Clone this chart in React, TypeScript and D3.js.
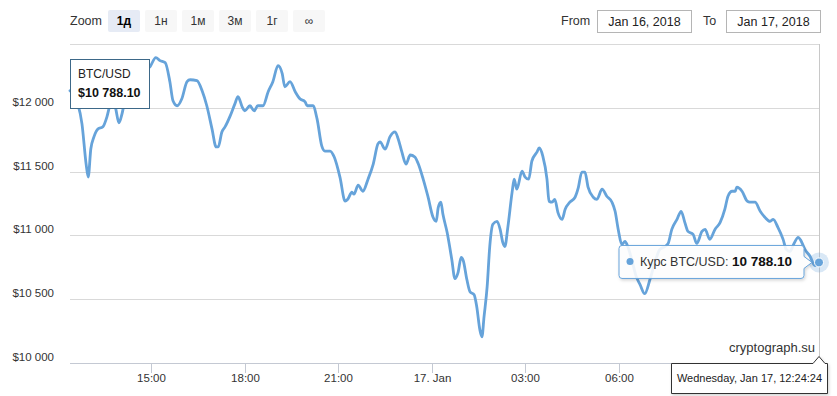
import React from 'react';
import * as d3 from 'd3';

// Time axis: minutes after Jan 16 2018 12:24:24 (UTC)
const startTime = Date.UTC(2018, 0, 16, 12, 24, 24);
const endTime = Date.UTC(2018, 0, 17, 12, 24, 24);

const minutesFromStart = [
  0, 15, 23, 31, 35, 40, 46, 54, 63, 71, 77, 83, 88, 94, 100, 106, 115, 135, 154, 165,
  173, 183, 192, 198, 206, 215, 225, 231, 244, 254, 263, 273, 281, 285, 292, 298, 308, 317, 323, 331,
  336, 346, 354, 361, 371, 381, 390, 400, 408, 413, 423, 433, 442, 452, 456, 467, 475, 484, 490, 500,
  508, 519, 529, 534, 542, 546, 554, 563, 573, 583, 592, 596, 606, 615, 625, 631, 638, 646, 654, 663,
  669, 679, 688, 698, 704, 708, 713, 717, 725, 734, 740, 746, 752, 756, 763, 769, 777, 782, 788, 792,
  796, 802, 807, 813, 821, 827, 832, 836, 842, 850, 854, 859, 869, 875, 882, 888, 898, 902, 909, 917,
  921, 927, 932, 938, 946, 952, 961, 971, 977, 984, 990, 996, 1006, 1013, 1023, 1032, 1042, 1048, 1054, 1061,
  1067, 1073, 1081, 1088, 1096, 1105, 1115, 1125, 1134, 1144, 1150, 1157, 1167, 1175, 1182, 1188, 1198, 1205, 1215, 1221,
  1230, 1240, 1250, 1259, 1265, 1273, 1279, 1282, 1292, 1302, 1307, 1317, 1327, 1336, 1346, 1352, 1361, 1371, 1377, 1384,
  1392, 1400, 1405, 1413, 1423, 1432, 1440,
];

const prices = [
  12134, 12031, 11874, 11559, 11457, 11677, 11772, 11835, 11850, 11929, 12024, 12071, 11992, 11882, 11953, 12071, 12189, 12268, 12323, 12394,
  12370, 12354, 12205, 12055, 12016, 12071, 12205, 12220, 12213, 12134, 12016, 11835, 11693, 11693, 11811, 11850, 11937, 12031, 12087, 12008,
  11976, 12016, 11976, 12016, 12016, 12126, 12205, 12331, 12268, 12165, 12205, 12126, 12071, 12047, 12016, 12016, 11913, 11701, 11661, 11661,
  11614, 11457, 11268, 11283, 11339, 11323, 11394, 11346, 11441, 11559, 11717, 11732, 11677, 11772, 11811, 11756, 11654, 11559, 11630, 11614,
  11567, 11441, 11307, 11142, 11110, 11220, 11260, 11165, 11024, 10811, 10661, 10709, 10827, 10803, 10654, 10559, 10535, 10441, 10260, 10205,
  10362, 10598, 10913, 11087, 11110, 11047, 10945, 10913, 11071, 11339, 11441, 11362, 11504, 11457, 11441, 11583, 11654, 11685, 11622, 11441,
  11268, 11260, 11283, 11181, 11126, 11205, 11260, 11299, 11370, 11496, 11496, 11378, 11299, 11283, 11362, 11307, 11260, 11189, 11047, 10929,
  10953, 10906, 10795, 10685, 10614, 10543, 10654, 10795, 10890, 10913, 10937, 11047, 11126, 11189, 11102, 11031, 11008, 10937, 11031, 11047,
  10969, 11047, 11102, 11205, 11307, 11346, 11346, 11378, 11346, 11268, 11260, 11260, 11189, 11142, 11110, 11126, 11063, 10969, 10890, 10874,
  10937, 10984, 10961, 10890, 10835, 10764, 10788.1,
];

const yTickValues = [10000, 10500, 11000, 11500, 12000, 12500];
const yTickLabels = ['$10 000', '$10 500', '$11 000', '$11 500', '$12 000', ''];

// visible x-axis ticks (later ones are covered by the hover date label)
const xTickTimes = [
  Date.UTC(2018, 0, 16, 15), Date.UTC(2018, 0, 16, 18), Date.UTC(2018, 0, 16, 21), Date.UTC(2018, 0, 17, 0),
  Date.UTC(2018, 0, 17, 3), Date.UTC(2018, 0, 17, 6),
];
const xTickLabels = ['15:00', '18:00', '21:00', '17. Jan', '03:00', '06:00'];

const zoomButtons = ['1д', '1н', '1м', '3м', '1г', '∞'];
const selectedButton = 0;
const fromDate = 'Jan 16, 2018';
const toDate = 'Jan 17, 2018';
const seriesName = 'BTC/USD';
const tooltipLabel = 'Курс BTC/USD: ';
const lastValueText = '10 788.10';
const hoverDateText = 'Wednesday, Jan 17, 12:24:24';
const creditText = 'cryptograph.su';

const FONT = "'Liberation Sans', Arial, sans-serif";
const LINE = '#66a3da';

export default function App() {
  const W = 837, H = 396;
  const left = 70, right = 819, top = 44, bottom = 363;

  const x = d3.scaleUtc().domain([new Date(startTime), new Date(endTime)]).range([left, right]);
  const y = d3.scaleLinear().domain([10000, 12500]).range([bottom, top]);

  const data = minutesFromStart.map((m, i) => ({ t: new Date(startTime + m * 60000), v: prices[i] }));
  const line = d3.line<any>().x((d) => x(d.t)).y((d) => y(d.v)).curve(d3.curveMonotoneX);
  const last = data[data.length - 1];
  const lx = x(last.t);
  const ly = y(last.v);

  // series tooltip geometry
  const tipR = lx - 15, tipL = tipR - 185, tipT = ly - 17, tipB = ly + 16;
  const tipPath = `M${tipL + 3},${tipT} H${tipR - 3} Q${tipR},${tipT} ${tipR},${tipT + 3} V${ly - 6} L${tipR + 8},${ly} L${tipR},${ly + 6} V${tipB - 3} Q${tipR},${tipB} ${tipR - 3},${tipB} H${tipL + 3} Q${tipL},${tipB} ${tipL},${tipB - 3} V${tipT + 3} Q${tipL},${tipT} ${tipL + 3},${tipT} Z`;

  // date label under axis
  const dL = 671.5, dR = 827.5, dT = bottom + 0.5, dB = 393.5;
  const datePath = `M${dL},${dT} H${lx - 6} L${lx},${dT - 7} L${lx + 6},${dT} H${dR} V${dB} H${dL} Z`;

  return (
    <svg width={W} height={H} style={{ position: 'absolute', left: 0, top: 0, background: '#fff' }} fontFamily={FONT}>
      <defs>
        <filter id="sh" x="-10%" y="-20%" width="130%" height="160%">
          <feDropShadow dx="1" dy="1.5" stdDeviation="1.5" floodColor="#000" floodOpacity="0.18" />
        </filter>
      </defs>
      <rect width={W} height={H} fill="#fff" />

      {/* range selector */}
      <text x={70} y={25} fontSize={12.5} fill="#333">Zoom</text>
      {zoomButtons.map((b, i) => {
        const bx = 108 + i * 37;
        const sel = i === selectedButton;
        return (
          <g key={b}>
            <rect x={bx} y={10} width={32} height={22} rx={2} fill={sel ? '#e6ebf5' : '#f7f7f7'} />
            <text x={bx + 16} y={25} textAnchor="middle" fontSize={12} fontWeight={sel ? 'bold' : 'normal'} fill={sel ? '#000' : '#333'}>{b}</text>
          </g>
        );
      })}
      <text x={561} y={25} fontSize={12.5} fill="#333">From</text>
      <rect x={597.5} y={10.5} width={94} height={22} fill="#fff" stroke="#b5b5b5" />
      <text x={644.5} y={25.5} textAnchor="middle" fontSize={12.5} fill="#222">{fromDate}</text>
      <text x={703} y={25} fontSize={12.5} fill="#333">To</text>
      <rect x={726.5} y={10.5} width={94} height={22} fill="#fff" stroke="#b5b5b5" />
      <text x={773.5} y={25.5} textAnchor="middle" fontSize={12.5} fill="#222">{toDate}</text>

      {/* grid */}
      {yTickValues.map((v, i) => (
        <g key={v}>
          <line x1={left} x2={right} y1={Math.round(y(v)) + 0.5} y2={Math.round(y(v)) + 0.5} stroke={i === 0 ? '#c4c9d3' : '#d9d9d9'} />
          {yTickLabels[i] && (
            <text x={54} y={y(v) - 2} textAnchor="end" fontSize={11.5} fill="#333">{yTickLabels[i]}</text>
          )}
        </g>
      ))}
      <line x1={right + 0.5} x2={right + 0.5} y1={top} y2={bottom} stroke="#c8c8c8" />

      {/* x axis */}
      {xTickTimes.map((t, i) => {
        const tx = Math.round(x(new Date(t))) + 0.5;
        return (
          <g key={t}>
            <line x1={tx} x2={tx} y1={bottom} y2={bottom + 10} stroke="#c4c9d3" />
            <text x={tx} y={382} textAnchor="middle" fontSize={11.5} fill="#333">{xTickLabels[i]}</text>
          </g>
        );
      })}

      {/* series */}
      <path d={line(data) || ''} fill="none" stroke={LINE} strokeWidth={2.8} strokeLinejoin="round" strokeLinecap="round" />

      {/* credit */}
      <text x={815} y={352} textAnchor="end" fontSize={13} fill="#333">{creditText}</text>

      {/* hover marker */}
      <circle cx={lx} cy={ly} r={10} fill={LINE} opacity={0.25} />
      <circle cx={lx} cy={ly} r={4.5} fill={LINE} stroke="#fff" strokeWidth={1} />

      {/* top-left label */}
      <rect x={70.5} y={59.5} width={79} height={49} fill="#fff" stroke="#3d6888" />
      <text x={78} y={78} fontSize={12} fill="#222">{seriesName}</text>
      <text x={78} y={97} fontSize={12.5} fontWeight="bold" fill="#111">{'$' + lastValueText}</text>

      {/* series tooltip */}
      <path d={tipPath} fill="rgba(255,255,255,0.88)" stroke={LINE} strokeWidth={1} filter="url(#sh)" />
      <circle cx={tipL + 11} cy={ly - 1} r={3.5} fill={LINE} />
      <text x={tipL + 21} y={ly + 3.5} fontSize={12.5} fill="#333">
        {tooltipLabel}
        <tspan fontWeight="bold" fontSize={13.5} fill="#111">{lastValueText}</tspan>
      </text>

      {/* date label */}
      <path d={datePath} fill="#fff" stroke="#333" strokeWidth={1} filter="url(#sh)" />
      <text x={(dL + dR) / 2} y={382} textAnchor="middle" fontSize={11} fill="#222">{hoverDateText}</text>
    </svg>
  );
}
